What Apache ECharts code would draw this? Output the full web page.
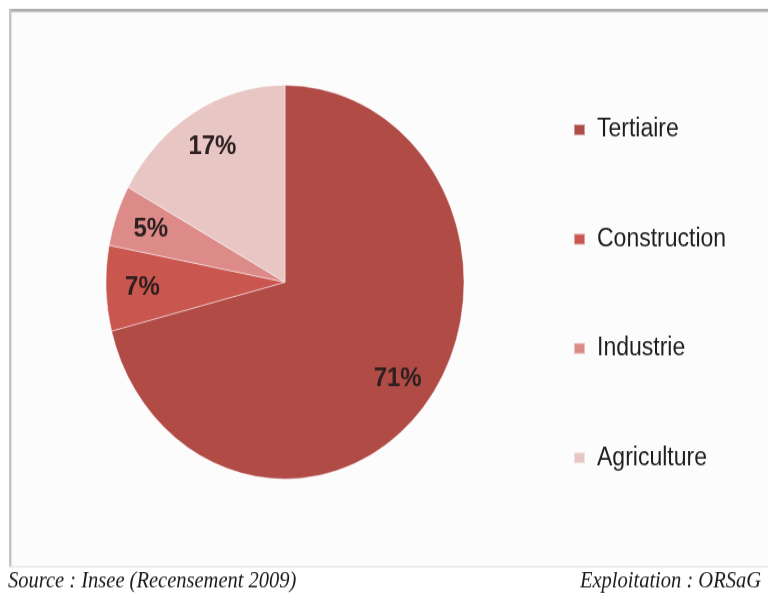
<!DOCTYPE html>
<html>
<head>
<meta charset="utf-8">
<script src="https://cdn.jsdelivr.net/npm/echarts@6/dist/echarts.min.js"></script>
<style>
  html, body { margin: 0; padding: 0; background: #ffffff; overflow: hidden; }
  #wrap { width: 768px; height: 594px; overflow: hidden; }
  /* the whole figure is drawn slightly taller than wide */
  #chart { width: 768px; height: 540px; transform: scaleY(1.1); transform-origin: 0 0; }
</style>
</head>
<body>
<div id="wrap"><div id="chart"></div></div>
<script>
// Répartition des emplois par secteur d'activité (Recensement 2009)
const categories = ['Tertiaire', 'Construction', 'Industrie', 'Agriculture'];
const shares = [71, 7, 5, 17];
const sliceColors = ['#b04b46', '#c9564f', '#dc8b89', '#e7c6c4'];
const sourceText = 'Source : Insee (Recensement 2009)';
const creditText = 'Exploitation : ORSaG';

const R = 179;
const center = [285, 256.5];

const pieData = categories.map((name, i) => ({
  name: name,
  value: shares[i],
  itemStyle: { color: sliceColors[i] }
}));

const chart = echarts.init(document.getElementById('chart'), null, { renderer: 'canvas' });

chart.setOption({
  animation: false,
  backgroundColor: '#ffffff',
  graphic: [
    // framed panel
    { type: 'rect', z: -10, shape: { x: 9, y: 8.2, width: 770, height: 507 },
      style: { fill: '#fcfcfc' } },
    { type: 'rect', z: -9, shape: { x: 9, y: 8.2, width: 770, height: 3 },
      style: { fill: new echarts.graphic.LinearGradient(0, 0, 0, 1, [
        { offset: 0, color: '#8c8c8c' }, { offset: 1, color: '#d6d6d6' }]) } },
    { type: 'rect', z: -9, shape: { x: 9, y: 8.2, width: 2.5, height: 507 },
      style: { fill: '#c4c4c4' } },
    { type: 'rect', z: -9, shape: { x: 9, y: 514.5, width: 770, height: 1.2 },
      style: { fill: '#e2e2e2' } },
    // footer
    { type: 'text', left: 8, top: 519, z: 10,
      style: { text: sourceText, fill: '#1a1a1a',
        font: 'italic 20.5px "Liberation Serif", "Times New Roman", serif' } },
    { type: 'text', right: 7, top: 519, z: 10,
      style: { text: creditText, fill: '#1a1a1a',
        font: 'italic 20.5px "Liberation Serif", "Times New Roman", serif' } }
  ],
  legend: {
    orient: 'vertical',
    left: 573,
    top: 106,
    padding: 0,
    itemWidth: 11,
    itemHeight: 10,
    itemGap: 75.4,
    icon: 'rect',
    selectedMode: false,
    data: categories,
    textStyle: {
      fontFamily: '"Liberation Sans", Arial, sans-serif',
      fontSize: 23,
      lineHeight: 24,
      color: '#1e1e1e',
      padding: [0, 0, 0, 7]
    }
  },
  series: [
    {
      type: 'pie',
      center: center,
      radius: [0, R],
      startAngle: 90,
      clockwise: true,
      silent: true,
      itemStyle: { borderColor: 'rgba(255,255,255,0.45)', borderWidth: 1 },
      label: { show: false },
      labelLine: { show: false },
      data: pieData
    },
    {
      // ring carrying the percentage labels
      type: 'pie',
      center: center,
      radius: [R * 0.56, R],
      startAngle: 90,
      clockwise: true,
      silent: true,
      z: 5,
      itemStyle: { color: 'rgba(0,0,0,0)', borderWidth: 0 },
      label: {
        show: true,
        position: 'inside',
        formatter: p => p.value + '%',
        fontFamily: '"Liberation Sans", Arial, sans-serif',
        fontWeight: 'bold',
        fontSize: 24,
        color: '#2e2020'
      },
      labelLine: { show: false },
      data: categories.map((name, i) => ({ name: name, value: shares[i] }))
    }
  ]
});
</script>
</body>
</html>
